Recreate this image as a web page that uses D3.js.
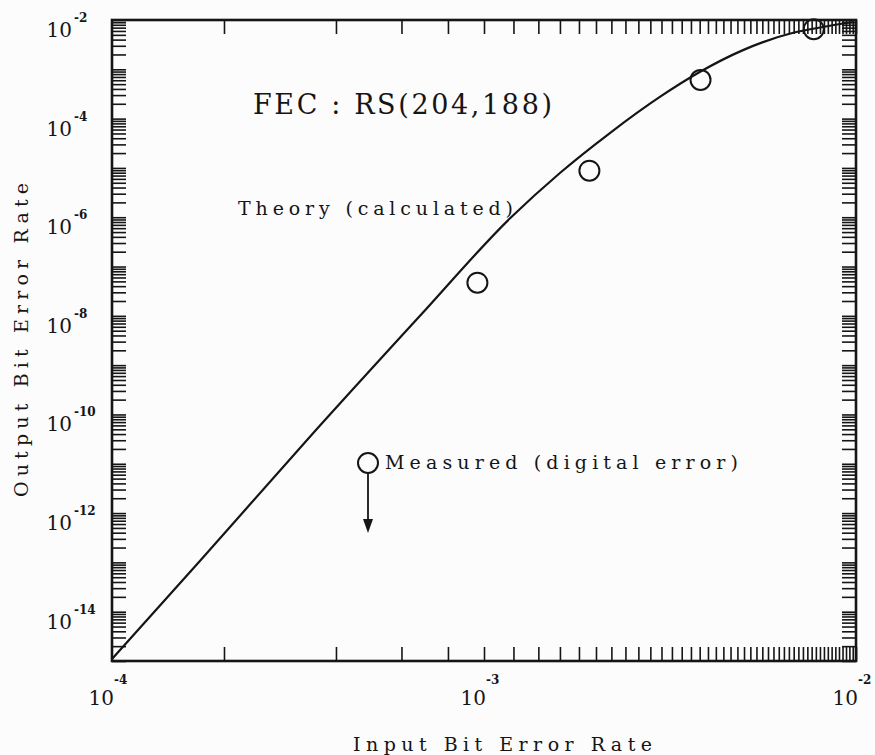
<!DOCTYPE html>
<html>
<head>
<meta charset="utf-8">
<script src="https://cdn.jsdelivr.net/npm/d3@7"></script>
<style>
  html, body { margin: 0; padding: 0; background: #fcfcfc; }
  svg { display: block; }
  text { font-family: "DejaVu Serif", "Liberation Serif", serif; fill: #151515; }
</style>
</head>
<body>
<svg id="chart" width="875" height="755"></svg>
<script>
// Theoretical output BER of the RS(204,188) decoder versus input BER
const theoryIn  = [1.0e-4, 1.73e-4, 3.34e-4, 6.73e-4, 1.175e-3, 1.60e-3, 2.18e-3, 2.97e-3, 3.81e-3, 4.97e-3, 6.78e-3, 8.15e-3, 9.8e-3];
const theoryOut = [1.1e-15, 1.1e-13, 3.0e-11, 1.0e-8, 9.5e-7, 7.9e-6, 5.1e-5, 2.75e-4, 8.9e-4, 2.45e-3, 5.5e-3, 7.2e-3, 9.1e-3];

// Measured points (digital error counting)
const measuredIn  = [9.6e-4, 1.92e-3, 3.82e-3, 7.7e-3];
const measuredOut = [4.7e-8, 8.8e-6, 6.1e-4, 6.5e-3];

// Labelled decades on each axis
const xLabelDecades = [1e-4, 1e-3, 1e-2];
const xLabelExps    = ["-4", "-3", "-2"];
const yLabelDecades = [1e-2, 1e-4, 1e-6, 1e-8, 1e-10, 1e-12, 1e-14];
const yLabelExps    = ["-2", "-4", "-6", "-8", "-10", "-12", "-14"];

const titleText   = "FEC : RS(204,188)";
const theoryLabel = "Theory (calculated)";
const measLabel   = "Measured (digital error)";
const xTitle      = "Input Bit Error Rate";
const yTitle      = "Output Bit Error Rate";

const ink = "#151515";
const svg = d3.select("#chart");

const L = 112, R = 856, T = 20, B = 661;
const x = d3.scaleLog().domain([1e-4, 1e-2]).range([L, R]);
const y = d3.scaleLog().domain([1e-15, 1e-2]).range([B, T]);

const tickLen = 14;
const xMinor = x.ticks(40);
const yMinor = y.ticks(60);

function styleAxis(g) {
  g.select(".domain").remove();
  g.selectAll(".tick line").attr("stroke", ink).attr("stroke-width", 1.6);
  g.selectAll(".tick text").remove();
}

// inward-pointing ticks on all four sides
svg.append("g").attr("transform", `translate(0,${B})`)
  .call(d3.axisBottom(x).tickValues(xMinor).tickSize(-tickLen).tickFormat(""))
  .call(styleAxis);
svg.append("g").attr("transform", `translate(0,${T})`)
  .call(d3.axisTop(x).tickValues(xMinor).tickSize(-tickLen).tickFormat(""))
  .call(styleAxis);
svg.append("g").attr("transform", `translate(${L},0)`)
  .call(d3.axisLeft(y).tickValues(yMinor).tickSize(-tickLen).tickFormat(""))
  .call(styleAxis);
svg.append("g").attr("transform", `translate(${R},0)`)
  .call(d3.axisRight(y).tickValues(yMinor).tickSize(-tickLen).tickFormat(""))
  .call(styleAxis);

// frame
svg.append("rect")
  .attr("x", L).attr("y", T).attr("width", R - L).attr("height", B - T)
  .attr("fill", "none").attr("stroke", ink).attr("stroke-width", 2.6);

// x tick labels: 10 with exponent
const xl = svg.append("g");
xLabelDecades.forEach((d, i) => {
  const px = x(d);
  xl.append("text").attr("x", px + 2).attr("y", 705)
    .attr("text-anchor", "end").attr("font-size", 20).text("10");
  xl.append("text").attr("x", px + 2).attr("y", 684)
    .attr("font-size", 12).attr("font-weight", "bold").text(xLabelExps[i]);
});

// y tick labels
const yl = svg.append("g");
yLabelDecades.forEach((d, i) => {
  const py = y(d);
  yl.append("text").attr("x", 72).attr("y", py + 17)
    .attr("text-anchor", "end").attr("font-size", 20).text("10");
  yl.append("text").attr("x", 74).attr("y", py + 2)
    .attr("font-size", 12).attr("font-weight", "bold").text(yLabelExps[i]);
});

// axis titles
svg.append("text").attr("x", 353).attr("y", 751)
  .attr("font-size", 19).attr("textLength", 299).attr("lengthAdjust", "spacing")
  .text(xTitle);
svg.append("text")
  .attr("transform", "translate(28,497) rotate(-90)")
  .attr("font-size", 19).attr("textLength", 314).attr("lengthAdjust", "spacing")
  .text(yTitle);

// theory curve
const pts = theoryIn.map((v, i) => [x(v), y(theoryOut[i])]);
svg.append("path")
  .attr("d", d3.line().curve(d3.curveMonotoneX)(pts))
  .attr("fill", "none").attr("stroke", ink).attr("stroke-width", 2.2);

// measured points
svg.append("g").selectAll("circle")
  .data(measuredIn.map((v, i) => [v, measuredOut[i]]))
  .join("circle")
  .attr("cx", d => x(d[0])).attr("cy", d => y(d[1])).attr("r", 10)
  .attr("fill", "none").attr("stroke", ink).attr("stroke-width", 2);

// annotations
svg.append("text").attr("x", 253).attr("y", 114)
  .attr("font-size", 27).attr("textLength", 299).attr("lengthAdjust", "spacing")
  .text(titleText);
svg.append("text").attr("x", 238).attr("y", 215)
  .attr("font-size", 19).attr("textLength", 275).attr("lengthAdjust", "spacing")
  .text(theoryLabel);

// legend for measured points, with downward arrow
const lg = svg.append("g");
lg.append("circle").attr("cx", 368).attr("cy", 463).attr("r", 10)
  .attr("fill", "none").attr("stroke", ink).attr("stroke-width", 2);
lg.append("line").attr("x1", 368).attr("x2", 368).attr("y1", 473).attr("y2", 522)
  .attr("stroke", ink).attr("stroke-width", 1.8);
lg.append("path").attr("d", "M363,519 L373,519 L368,533 Z").attr("fill", ink);
lg.append("text").attr("x", 385).attr("y", 469)
  .attr("font-size", 19).attr("textLength", 353).attr("lengthAdjust", "spacing")
  .text(measLabel);
</script>
</body>
</html>
